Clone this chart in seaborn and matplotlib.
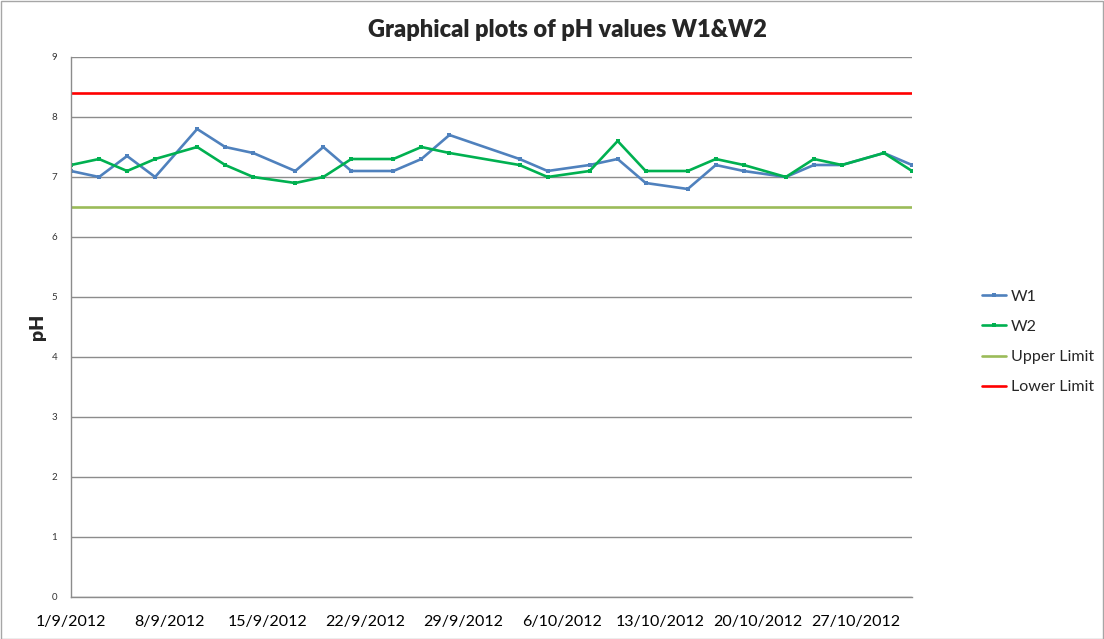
import pandas as pd
import matplotlib.pyplot as plt
import matplotlib.dates as mdates
from matplotlib.patches import Rectangle
import seaborn as sns

# sampling dates (irregular)
dates = ['2012-09-01', '2012-09-03', '2012-09-05', '2012-09-07', '2012-09-10',
         '2012-09-12', '2012-09-14', '2012-09-17', '2012-09-19', '2012-09-21',
         '2012-09-24', '2012-09-26', '2012-09-28', '2012-10-03', '2012-10-05',
         '2012-10-08', '2012-10-10', '2012-10-12', '2012-10-15', '2012-10-17',
         '2012-10-19', '2012-10-22', '2012-10-24', '2012-10-26', '2012-10-29',
         '2012-10-31']
w1 = [7.1, 7.0, 7.35, 7.0, 7.8, 7.5, 7.4, 7.1, 7.5, 7.1,
      7.1, 7.3, 7.7, 7.3, 7.1, 7.2, 7.3, 6.9, 6.8, 7.2,
      7.1, 7.0, 7.2, 7.2, 7.4, 7.2]
w2 = [7.2, 7.3, 7.1, 7.3, 7.5, 7.2, 7.0, 6.9, 7.0, 7.3,
      7.3, 7.5, 7.4, 7.2, 7.0, 7.1, 7.6, 7.1, 7.1, 7.3,
      7.2, 7.0, 7.3, 7.2, 7.4, 7.1]
upper_limit = 6.5
lower_limit = 8.4
week_ticks = ['2012-09-01', '2012-09-08', '2012-09-15', '2012-09-22', '2012-09-29',
              '2012-10-06', '2012-10-13', '2012-10-20', '2012-10-27']

df = pd.DataFrame({'date': pd.to_datetime(dates), 'W1': w1, 'W2': w2})
df['Upper Limit'] = upper_limit
df['Lower Limit'] = lower_limit

sns.set_theme(style='white')
plt.rcParams['font.family'] = ['Lato', 'DejaVu Sans']

fig = plt.figure(figsize=(11.04, 6.39), dpi=100)
ax = fig.add_axes([71 / 1104, 42 / 639, 841 / 1104, 540 / 639])

sns.lineplot(data=df, x='date', y='W1', ax=ax, color='#4F81BD', lw=1.9,
             marker='s', markersize=2.5, markeredgewidth=0, label='W1')
sns.lineplot(data=df, x='date', y='W2', ax=ax, color='#00B050', lw=1.9,
             marker='s', markersize=2.5, markeredgewidth=0, label='W2')
sns.lineplot(data=df, x='date', y='Upper Limit', ax=ax, color='#9BBB59', lw=1.9,
             label='Upper Limit')
sns.lineplot(data=df, x='date', y='Lower Limit', ax=ax, color='#FF0000', lw=1.9,
             label='Lower Limit')

ax.set_xlim(pd.Timestamp('2012-09-01'), pd.Timestamp('2012-10-31'))
ax.set_ylim(0, 9)
ax.set_yticks(range(0, 10))
ax.yaxis.grid(True, color='#8C8C8C', lw=1)
ax.xaxis.grid(False)
ax.set_xticks(pd.to_datetime(week_ticks))
ax.xaxis.set_major_formatter(mdates.DateFormatter('%-d/%-m/%Y'))
ax.tick_params(axis='x', labelsize=11.5, length=0, pad=13, colors='black')
ax.tick_params(axis='y', labelsize=7, length=0, pad=10, colors='#333333')

for side in ['top', 'right']:
    ax.spines[side].set_visible(False)
for side in ['left', 'bottom']:
    ax.spines[side].set_color('#8C8C8C')
    ax.spines[side].set_linewidth(1)

ax.set_xlabel('')
ax.set_ylabel('pH', fontsize=14, fontweight='heavy', labelpad=4)
fig.text(0.514, 0.953, 'Graphical plots of pH values W1&W2', ha='center', va='center',
         fontsize=17, fontweight='heavy')

ax.legend(loc='center left', bbox_to_anchor=(968 / 1104, 1 - 342 / 639),
          bbox_transform=fig.transFigure, frameon=False, fontsize=11.5,
          handlelength=1.5, handletextpad=0.3, labelspacing=1.0)

fig.add_artist(Rectangle((0.5 / 1104, 0.5 / 639), 1 - 1.5 / 1104, 1 - 1.5 / 639,
                         transform=fig.transFigure, fill=False, edgecolor='#A6A6A6', lw=1))

fig.savefig('out.png', dpi=100)
